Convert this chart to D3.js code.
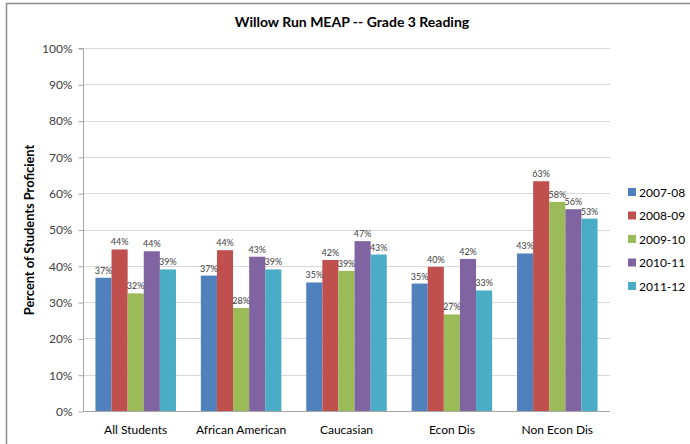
<!DOCTYPE html>
<html><head><meta charset="utf-8">
<script src="https://cdn.jsdelivr.net/npm/d3@7"></script>
<style>body{margin:0;background:#fff;}svg{display:block;font-family:Lato,"Open Sans",sans-serif;}</style>
</head><body>
<svg id="c" width="690" height="444"></svg>
<script>
const categories = ["All Students","African American","Caucasian","Econ Dis","Non Econ Dis"];
const seriesNames = ["2007-08","2008-09","2009-10","2010-11","2011-12"];
const s2007 = [36.7, 37.3, 35.4, 35.1, 43.4];
const s2008 = [44.5, 44.3, 41.6, 39.7, 63.3];
const s2009 = [32.4, 28.4, 38.6, 26.6, 57.6];
const s2010 = [44.0, 42.5, 46.8, 41.9, 55.6];
const s2011 = [39.0, 39.0, 43.1, 33.2, 53.0];
const labels2007 = ["37%","37%","35%","35%","43%"];
const labels2008 = ["44%","44%","42%","40%","63%"];
const labels2009 = ["32%","28%","39%","27%","58%"];
const labels2010 = ["44%","43%","47%","42%","56%"];
const labels2011 = ["39%","39%","43%","33%","53%"];
const yTicks = [0,10,20,30,40,50,60,70,80,90,100];
const colors = ["#4F81BD","#C0504D","#9BBB59","#8064A2","#4BACC6"];

const values = [s2007,s2008,s2009,s2010,s2011];
const labels = [labels2007,labels2008,labels2009,labels2010,labels2011];

const svg = d3.select("#c");
// outer frame (only left and top edges are visible in the crop)
svg.append("path").attr("d","M6.5,444V3.5H690").attr("fill","none")
  .attr("stroke","#8c8c8c").attr("stroke-width",1.5);

const pL=83, pR=610, pT=48, pB=411;
const y = d3.scaleLinear().domain([0,100]).range([pB,pT]);
const x0 = d3.scaleBand().domain(categories).range([pL,pR]).padding(0);
const bw = x0.bandwidth();
const x1 = d3.scaleBand().domain(seriesNames).range([bw*0.118, bw*0.882]).padding(0);

// gridlines
svg.append("g").selectAll("line").data(yTicks.filter(t=>t>0)).join("line")
  .attr("x1",pL).attr("x2",pR).attr("y1",d=>Math.round(y(d))+0.5).attr("y2",d=>Math.round(y(d))+0.5)
  .attr("stroke","#d9d9d9").attr("stroke-width",1);

// y axis
const yAxis = d3.axisLeft(y).tickValues(yTicks).tickFormat(d=>d+"%").tickSize(5).tickPadding(6);
const ga = svg.append("g").attr("transform",`translate(${pL+0.5},0.5)`).call(yAxis);
ga.select(".domain").attr("stroke","#a6a6a6").attr("d",`M-5,${y(100)}H0V${y(0)}`);
ga.selectAll(".tick line").attr("stroke","#a6a6a6");
ga.selectAll(".tick text").attr("fill","#404040").style("font-size","12px").style("font-family","Lato,sans-serif");

// bars
seriesNames.forEach((s,si)=>{
  const g = svg.append("g");
  g.selectAll("rect").data(categories).join("rect")
    .attr("x",(c)=>x0(c)+x1(s))
    .attr("y",(c,i)=>y(values[si][i]))
    .attr("width",x1.bandwidth())
    .attr("height",(c,i)=>y(0)-y(values[si][i]))
    .attr("fill",colors[si]);
});
// labels
seriesNames.forEach((s,si)=>{
  svg.append("g").selectAll("text").data(categories).join("text")
    .attr("x",(c)=>x0(c)+x1(s)+x1.bandwidth()/2)
    .attr("y",(c,i)=>y(values[si][i])-4)
    .attr("text-anchor","middle")
    .attr("fill","#404040").style("font-size","9px")
    .text((c,i)=>labels[si][i]);
});

// x axis line
svg.append("line").attr("x1",pL).attr("x2",pR).attr("y1",pB+0.5).attr("y2",pB+0.5)
  .attr("stroke","#a6a6a6");
// x category labels
svg.append("g").selectAll("text").data(categories).join("text")
  .attr("x",c=>x0(c)+bw/2).attr("y",434).attr("text-anchor","middle")
  .attr("fill","#000").style("font-size","12px").text(c=>c);

// title
svg.append("text").attr("x",352).attr("y",27).attr("text-anchor","middle")
  .style("font-size","14px").style("font-weight","bold").attr("fill","#000")
  .text("Willow Run MEAP -- Grade 3 Reading");

// y axis title
svg.append("text").attr("transform",`translate(34,230) rotate(-90)`)
  .attr("text-anchor","middle").style("font-size","12.8px").style("font-weight","bold")
  .text("Percent of Students Proficient");

// legend
const lg = svg.append("g");
seriesNames.forEach((s,i)=>{
  const ly = 192 + i*23.5;
  lg.append("rect").attr("x",628).attr("y",ly-4).attr("width",8).attr("height",8).attr("fill",colors[i]);
  lg.append("text").attr("x",639).attr("y",ly+4.5).style("font-size","12px").attr("fill","#000").text(s);
});
</script>
</body></html>
